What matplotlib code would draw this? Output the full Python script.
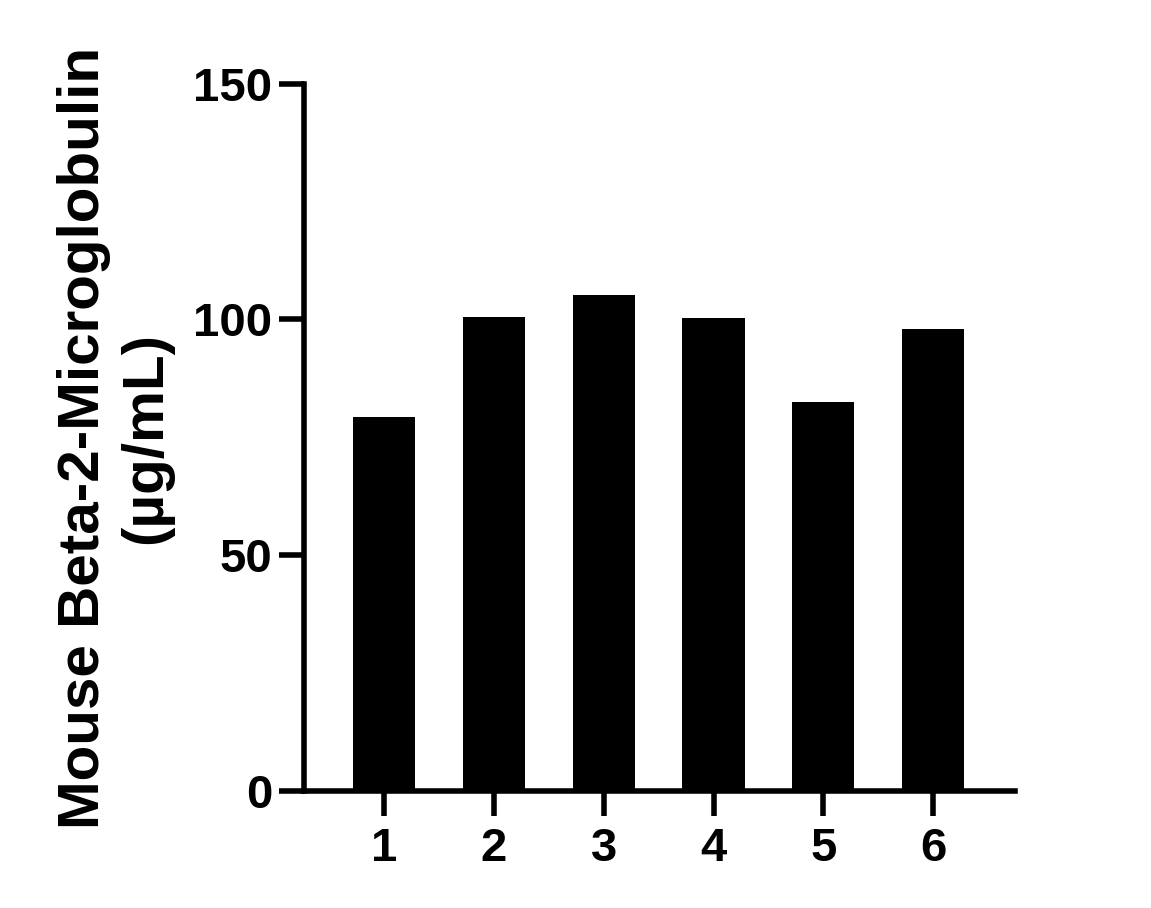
import matplotlib
matplotlib.use("Agg")
import matplotlib.pyplot as plt

categories = ["1", "2", "3", "4", "5", "6"]
values = [79.4, 100.6, 105.2, 100.3, 82.4, 98.0]
yticks = [0, 50, 100, 150]

plt.rcParams['font.family'] = ['Liberation Sans', 'DejaVu Sans']
plt.rcParams['font.weight'] = 'bold'

fig = plt.figure(figsize=(11.51, 9.08), dpi=100)
ax = fig.add_axes([304/1151, 1-791/908, (1015-304)/1151, (791-83.7)/908])

x = list(range(1, len(categories)+1))
ax.bar(x, values, width=0.565, color='black', edgecolor='none')

ax.set_xlim(0.274, 6.743)
ax.set_ylim(0, 150)
ax.set_yticks(yticks)
ax.set_yticklabels([str(v) for v in yticks])
ax.set_xticks(x)
ax.set_xticklabels(categories)

for s in ['top', 'right']:
    ax.spines[s].set_visible(False)
for s in ['left', 'bottom']:
    ax.spines[s].set_linewidth(4.0)
    ax.spines[s].set_capstyle('projecting')

ax.tick_params(axis='both', length=18, width=4.0, labelsize=34, direction='out')
ax.tick_params(axis='y', pad=5)
ax.tick_params(axis='x', pad=8)
for lab in ax.get_xticklabels() + ax.get_yticklabels():
    lab.set_fontweight('bold')

fig.text(115/1151, 1-438/908, "Mouse Beta-2-Microglobulin\n(µg/mL)", rotation=90,
         ha='center', va='center', multialignment='center', fontsize=42,
         fontweight='bold', linespacing=1.2)

fig.savefig("out.png", dpi=100)
